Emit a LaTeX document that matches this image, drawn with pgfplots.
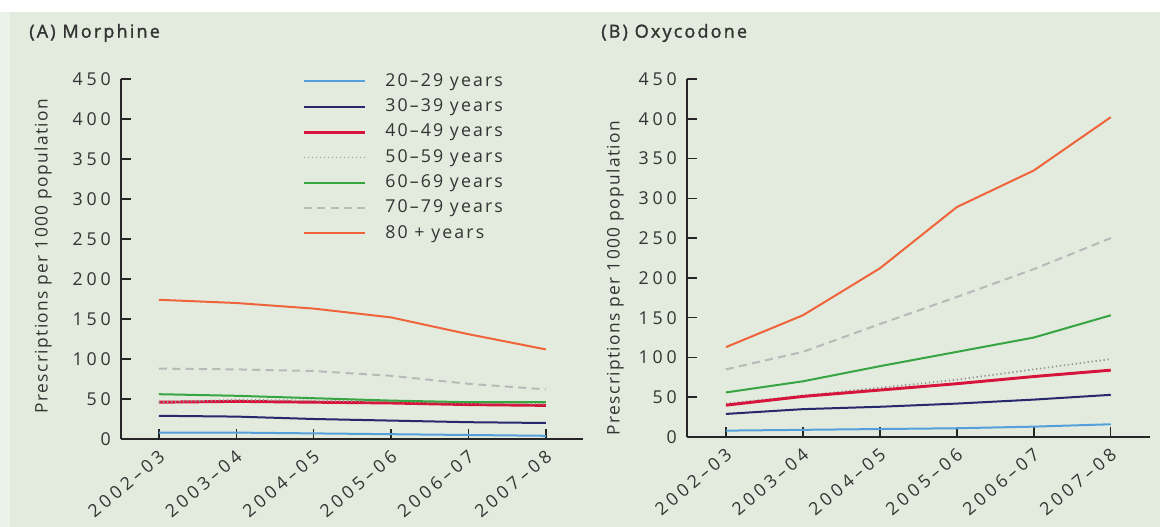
\documentclass[border=0pt]{standalone}
\usepackage{fontspec}
\setmainfont{Open Sans}
\newfontfamily\lgf{Open Sans}[LetterSpace=12]
\newfontfamily\tkf{Open Sans}[LetterSpace=22]
\newfontfamily\ylf{Open Sans}[LetterSpace=8]
\newfontfamily\ttf{Open Sans}[LetterSpace=12, FakeBold=1.5]
\usepackage{pgfplots}
\pgfplotsset{compat=1.18}
\definecolor{bg}{HTML}{E2EBDD}
\definecolor{bgl}{HTML}{EAF3E8}
\definecolor{txt}{HTML}{333333}
\definecolor{axc}{HTML}{262626}
\definecolor{c20}{RGB}{85,160,220}
\definecolor{c30}{RGB}{40,40,110}
\definecolor{c40}{RGB}{215,20,60}
\definecolor{c50}{RGB}{150,150,150}
\definecolor{c60}{RGB}{55,165,65}
\definecolor{c70}{RGB}{185,185,185}
\definecolor{c80}{RGB}{240,100,60}
\newcommand\lgfont{\lgf\fontsize{13.3}{15}\selectfont\color{txt}}
\newcommand\tkfont{\tkf\fontsize{13.3}{15}\selectfont\color{txt}}
\newcommand\ylfont{\ylf\fontsize{13}{15}\selectfont\color{txt}}
\newcommand\titlefont{\ttf\fontsize{13.5}{16}\selectfont\color{txt}}
\pgfplotsset{
  panel/.style={
    anchor=south west, scale only axis,
    xmin=-0.49, xmax=5.48, ymin=0, ymax=450,
    axis lines*=left,
    axis line style={line width=1.1pt, color=axc},
    xtick={0,...,5},
    xticklabels={2002–03,2003–04,2004–05,2005–06,2006–07,2007–08},
    ytick={0,50,...,450},
    tick align=inside,
    major tick length=7.5pt,
    every tick/.style={line width=1.1pt, color=axc},
    /pgf/number format/assume math mode=true,
    tick label style={font=\tkfont},
    xticklabel style={rotate=40, anchor=east, inner sep=0pt, xshift=3pt},
    xticklabel shift=13pt,
    yticklabel style={anchor=east, inner sep=0pt, xshift=-7.5pt},
    clip=false,
  },
  s20/.style={c20, line width=1.5pt},
  s30/.style={c30, line width=1.5pt},
  s40/.style={c40, line width=2.2pt},
  s50/.style={c50, line width=1.3pt, dash pattern=on 1pt off 2pt},
  s60/.style={c60, line width=1.5pt},
  s70/.style={c70, line width=1.5pt, dash pattern=on 6pt off 4pt},
  s80/.style={c80, line width=1.5pt},
}
\begin{document}
\begin{tikzpicture}[x=0.75pt,y=0.75pt]
\fill[white] (0,0) rectangle (1160,527);
\fill[bg] (0,0) rectangle (1160,515);
\fill[bgl] (0,0) rectangle (10,515);
\useasboundingbox (0,0) rectangle (1160,527);
\coordinate (LA) at (121,88);
\coordinate (RA) at (687,90);
\node[anchor=west, font=\titlefont, inner sep=0pt] at (29,527-33) {(A) Morphine};
\node[anchor=west, font=\titlefont, inner sep=0pt] at (601,527-33) {(B) Oxycodone};
\node[rotate=90, font=\ylfont, inner sep=0pt] at (43,527-256) {Prescriptions per 1000 population};
\node[rotate=90, font=\ylfont, inner sep=0pt] at (615,527-278) {Prescriptions per 1000 population};

\begin{axis}[panel, at={(LA)}, width=346.5pt, height=270pt,
  legend style={at={(rel axis cs:0.392,1.018)}, anchor=north west, draw=none, fill=none,
    inner sep=0pt, row sep=6pt, font=\lgfont,
    nodes={inner sep=0pt, text height=10pt, text depth=3pt}},
  legend cell align=left,
  legend image code/.code={\draw[#1] (0pt,0pt) -- (45.75pt,0pt); \path (60pt,0pt);},
]
\addplot[s20] coordinates {(0,8) (1,8) (2,7) (3,6) (4,5) (5,4)};
\addplot[s30] coordinates {(0,29) (1,28) (2,25) (3,23) (4,21) (5,20)};
\addplot[s40] coordinates {(0,46) (1,47) (2,46) (3,45) (4,43) (5,42)};
\addplot[s50] coordinates {(0,46) (1,49) (2,48) (3,47) (4,45) (5,44)};
\addplot[s60] coordinates {(0,56) (1,54) (2,51) (3,48) (4,46) (5,46)};
\addplot[s70] coordinates {(0,88) (1,87) (2,85) (3,79) (4,69) (5,62)};
\addplot[s80] coordinates {(0,174) (1,170) (2,163) (3,152) (4,131) (5,112)};
\legend{20–29 years,30–39 years,40–49 years,50–59 years,60–69 years,70–79 years,80 + years}
\end{axis}

\begin{axis}[panel, at={(RA)}, width=347.25pt, height=268.5pt, xmin=-0.506, xmax=5.51]
\addplot[s20] coordinates {(0,8) (1,9) (2,10) (3,11) (4,13) (5,16)};
\addplot[s30] coordinates {(0,29) (1,35) (2,38) (3,42) (4,47) (5,53)};
\addplot[s50] coordinates {(0,42) (1,52) (2,62) (3,72) (4,85) (5,98)};
\addplot[s40] coordinates {(0,40) (1,51) (2,59) (3,67) (4,76) (5,84)};
\addplot[s60] coordinates {(0,56) (1,70) (2,89) (3,107) (4,125) (5,153)};
\addplot[s70] coordinates {(0,85) (1,107) (2,142) (3,176) (4,211) (5,250)};
\addplot[s80] coordinates {(0,113) (1,153) (2,212) (3,289) (4,335) (5,402)};
\end{axis}
\end{tikzpicture}
\end{document}
